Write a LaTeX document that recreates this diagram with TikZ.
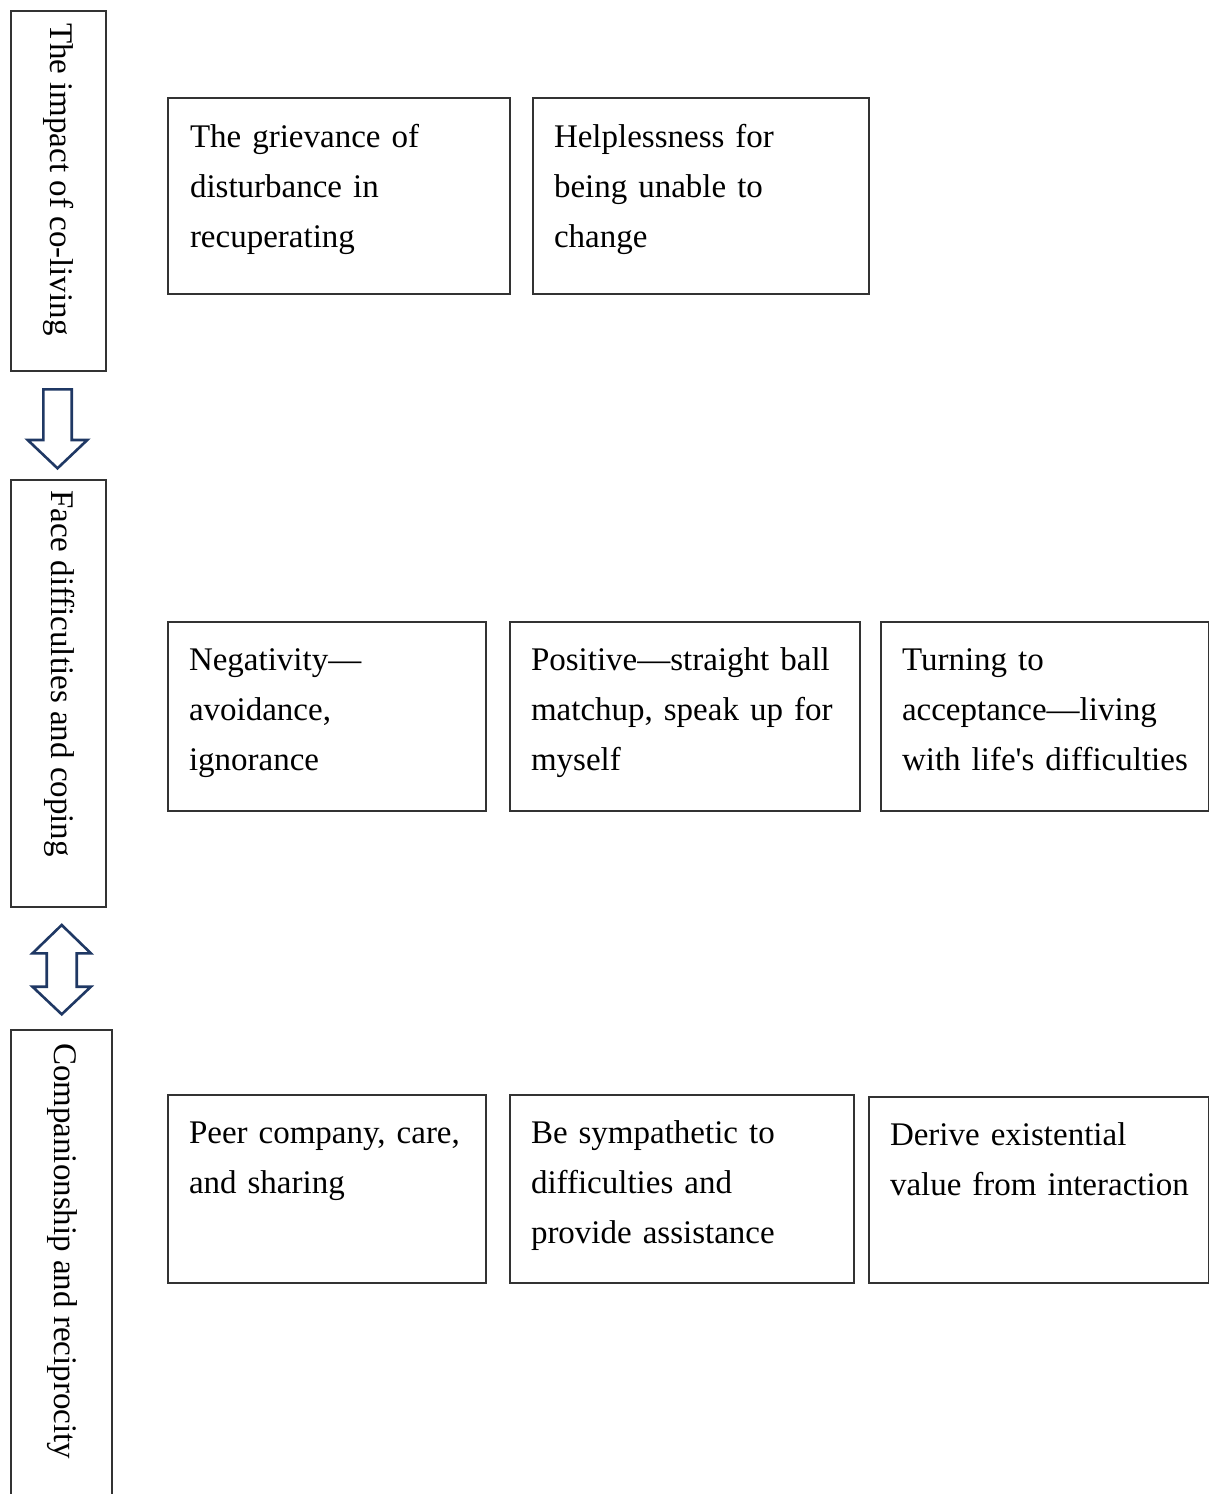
\documentclass[tikz,border=0pt]{standalone}
\usepackage{fontspec}
\setmainfont{Liberation Serif}
\definecolor{navy}{HTML}{1F3864}
\definecolor{boxgray}{HTML}{333333}
\begin{document}
\begin{tikzpicture}[x=1pt,y=-1pt,
  cbox/.style={draw=boxgray, line width=1.6pt, anchor=north west, inner sep=0pt, outer sep=0pt},
  txt/.style={anchor=north west, inner sep=0pt, outer sep=0pt, align=left, text width=420pt,
              font=\fontsize{33}{50}\selectfont},
  vlab/.style={rotate=-90, anchor=base west, inner sep=0pt, outer sep=0pt,
              font=\fontsize{33}{50}\selectfont},
  barrow/.style={draw=navy, line width=2.6pt, line join=miter, fill=white}]
\useasboundingbox (0,0) rectangle (1209,1494);

% left category boxes
\node[cbox, minimum width=95pt, minimum height=360pt] (L1) at (11,11) {};
\node[cbox, minimum width=95pt, minimum height=427pt] (L2) at (11,480) {};
\node[cbox, minimum width=101pt, minimum height=490pt] (L3) at (11,1030) {};
\node[vlab] (T1) at ([shift={(39,12)}]L1.north west) {The impact of co-living};
\node[vlab] (T2) at ([shift={(40,10)}]L2.north west) {Face difficulties and coping};
\node[vlab] (T3) at ([shift={(43,13)}]L3.north west) {Companionship and reciprocity};

% block arrows
\draw[barrow] (43.3,389.3) -- (71.7,389.3) -- (71.7,440) -- (87.3,440) -- (57.5,468.3)
  -- (27.7,440) -- (43.3,440) -- cycle;
\draw[barrow] (61.7,925) -- (90.9,953.3) -- (76.7,953.3) -- (76.7,986.7) -- (90.9,986.7)
  -- (61.7,1014.3) -- (32.5,986.7) -- (46.7,986.7) -- (46.7,953.3) -- (32.5,953.3) -- cycle;

% row 1
\node[cbox, minimum width=342pt, minimum height=196pt] (A1) at (168,98) {};
\node[cbox, minimum width=336pt, minimum height=196pt] (A2) at (533,98) {};
\node[txt] (A1t) at ([shift={(22,14)}]A1.north west) {\strut The grievance of\\disturbance in\\recuperating};
\node[txt] (A2t) at ([shift={(21,14)}]A2.north west) {\strut Helplessness for\\being unable to\\change};

% row 2
\node[cbox, minimum width=318pt, minimum height=189pt] (B1) at (168,622) {};
\node[cbox, minimum width=350pt, minimum height=189pt] (B2) at (510,622) {};
\node[cbox, minimum width=328pt, minimum height=189pt] (B3) at (881,622) {};
\node[txt] (B1t) at ([shift={(21,13)}]B1.north west) {\strut Negativity—\\avoidance,\\ignorance};
\node[txt] (B2t) at ([shift={(21,13)}]B2.north west) {\strut Positive—straight ball\\matchup, speak up for\\myself};
\node[txt] (B3t) at ([shift={(21,13)}]B3.north west) {\strut Turning to\\acceptance—living\\with life\textquotesingle s difficulties};

% row 3
\node[cbox, minimum width=318pt, minimum height=188pt] (C1) at (168,1095) {};
\node[cbox, minimum width=344pt, minimum height=188pt] (C2) at (510,1095) {};
\node[cbox, minimum width=340pt, minimum height=186pt] (C3) at (869,1097) {};
\node[txt] (C1t) at ([shift={(21,13)}]C1.north west) {\strut Peer company, care,\\and sharing};
\node[txt] (C2t) at ([shift={(21,13)}]C2.north west) {\strut Be sympathetic to\\difficulties and\\provide assistance};
\node[txt] (C3t) at ([shift={(21,13)}]C3.north west) {\strut Derive existential\\value from interaction};
\end{tikzpicture}
\end{document}
